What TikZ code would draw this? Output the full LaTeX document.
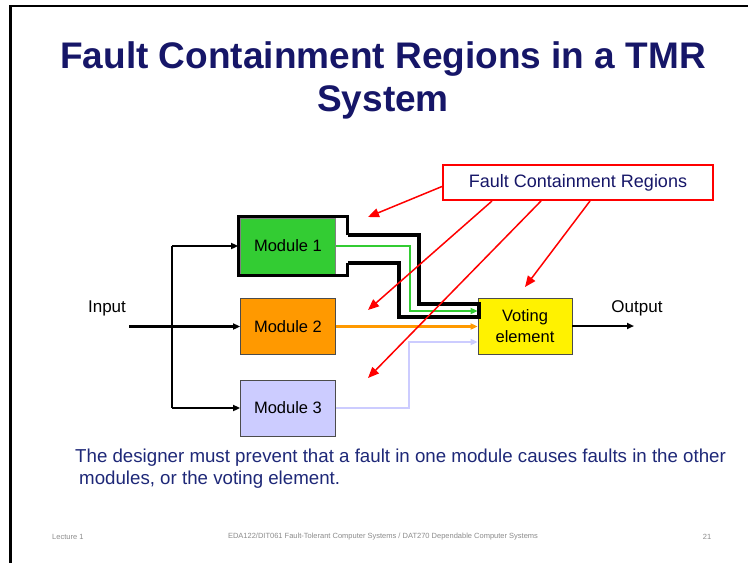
\documentclass[tikz,border=0pt]{standalone}
\usepackage{fontspec}
\setmainfont{Liberation Sans}
\usetikzlibrary{arrows.meta,calc}
\definecolor{navy}{RGB}{22,22,104}
\definecolor{bodyblue}{RGB}{30,40,120}
\definecolor{modgreen}{RGB}{51,204,51}
\definecolor{modorange}{RGB}{255,153,0}
\definecolor{modlav}{RGB}{204,204,255}
\definecolor{footgray}{RGB}{140,140,140}
\tikzset{
  modbox/.style={draw=black!70, line width=0.8pt, minimum width=95pt, minimum height=56pt,
                 inner sep=0pt, font=\fontsize{16.5}{20}\selectfont},
  wire/.style={line width=2.4pt, -{Triangle[length=7pt,width=6pt]}},
  cwire/.style={line width=2.8pt, -{Triangle[length=7pt,width=6pt]}},
  pointer/.style={draw=red, line width=1.5pt, -{Triangle[length=11pt,width=9pt]}},
  lbl/.style={font=\fontsize{17}{20}\selectfont, inner sep=0pt}
}
\begin{document}
\begin{tikzpicture}[x=1pt,y=-1pt]
\useasboundingbox (0,0) rectangle (748,563);
\fill[white] (0,0) rectangle (748,563);
% slide frame
\draw[line width=2.5pt] (10.5,563) -- (10.5,6) -- (748,6);

% title
\node[font=\fontsize{37}{43}\selectfont\bfseries, text=navy, align=center, inner sep=0pt]
  (title) at (383,80) {Fault Containment Regions in a TMR\\System};

% modules
\node[modbox, fill=modgreen, draw=black!50] (m1) at (288,246) {Module 1};
\node[modbox, fill=modorange] (m2) at (288,326.5) {Module 2};
\node[modbox, fill=modlav] (m3) at (288,408) {Module 3};
\node[modbox, fill=yellow, minimum width=94pt, align=center,
      font=\fontsize{16.5}{21}\selectfont] (vote) at (525,326) {Voting\\element};

% containment outline of module 1 and its channel to the voter
\draw[line width=3.2pt, line join=miter]
  (347.5,235) -- (347.5,216.5) -- (238.5,216.5) -- (238.5,275.5) -- (347.5,275.5) -- (347.5,263);
\draw[line width=3.2pt, line join=miter]
  (347.5,235) -- (419,235) -- (419,304) -- (479,304) -- (479,317) -- (399,317) -- (399,263) -- (347.5,263);

% input distribution
\coordinate (in) at (129,326.5);
\coordinate (bus1) at (172,246);
\coordinate (bus3) at (172,408);
\node[lbl] (inlbl) at (107,308) {Input};
\draw[line width=2.4pt] (bus1) -- (bus3);
\draw[wire] (in) -- (m2.west);
\draw[wire, shorten >=2pt] (bus1) -- (m1.west);
\draw[wire] (bus3) -- (m3.west);

% module outputs to the voter
\draw[cwire, draw=modgreen, color=modgreen] (m1.east) -- (410,246) |- ($(vote.west)+(0,-15)$);
\draw[cwire, draw=modorange, color=modorange] (m2.east) -- (vote.west |- m2.east);
\draw[cwire, draw=modlav, color=modlav] (m3.east) -- (409,408) |- ($(vote.west)+(0,16)$);

% output
\coordinate (out) at (634,326);
\node[lbl] (outlbl) at (637,308) {Output};
\draw[wire] (vote.east) -- (out);

% label for the containment regions
\node[draw=red, line width=2pt, fill=white, minimum width=270pt, minimum height=35pt,
      inner sep=0pt, text=navy, font=\fontsize{18}{21}\selectfont] (fcr) at (578,182.5)
      {Fault Containment Regions};
\coordinate (t1) at (368,217);
\coordinate (t2) at (368,310);
\coordinate (t3) at (368,378);
\coordinate (t4) at (525,287);
\draw[pointer] ($(fcr.west)+(0,4)$) -- (t1);
\draw[pointer] ($(fcr.south west)+(50,0)$) -- (t2);
\draw[pointer] ($(fcr.south west)+(99,0)$) -- (t3);
\draw[pointer] ($(fcr.south west)+(148,0)$) -- (t4);

% explanation
\node[anchor=north west, inner sep=0pt, align=left, text=bodyblue,
      font=\fontsize{18.7}{22}\selectfont] (note) at (75,449)
  {The designer must prevent that a fault in one module causes faults in the other\\
   \hspace*{4pt}modules, or the voting element.};

% footer
\node[anchor=west, inner sep=0pt, text=footgray, font=\fontsize{7.5}{9}\selectfont] (lect) at (52,537) {Lecture 1};
\node[inner sep=0pt, text=footgray, font=\fontsize{7.5}{9}\selectfont] (course) at (383,537)
  {EDA122/DIT061 Fault-Tolerant Computer Systems / DAT270 Dependable Computer Systems};
\node[inner sep=0pt, text=footgray, font=\fontsize{7.5}{9}\selectfont] (pg) at (707,537) {21};
\end{tikzpicture}
\end{document}
